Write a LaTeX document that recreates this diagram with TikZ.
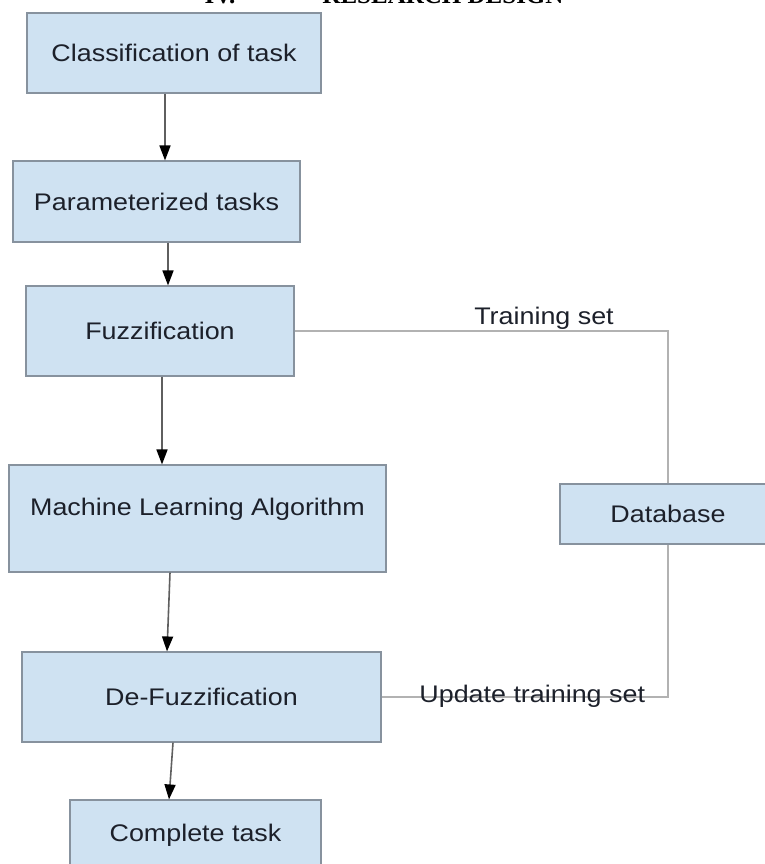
\documentclass[tikz,border=0pt]{standalone}
\usepackage{fontspec}
\setmainfont{Liberation Sans}[FakeStretch=1.12]
\newfontfamily\titlefont{Liberation Serif}
\usetikzlibrary{arrows.meta}
\definecolor{boxblue}{RGB}{207,226,242}
\definecolor{boxline}{RGB}{135,146,158}
\definecolor{textdark}{RGB}{28,32,42}
\definecolor{flowgray}{RGB}{95,95,95}
\definecolor{dbgray}{RGB}{178,178,178}

\begin{document}
\begin{tikzpicture}[x=1pt,y=-1pt,font=\fontsize{24}{28}\selectfont,
  task/.style 2 args={draw=boxline, line width=1.1pt, fill=boxblue, text=textdark,
    minimum width=#1, minimum height=#2, inner sep=0pt, text height=17pt, text depth=0pt},
  flow/.style={draw=flowgray, line width=1.6pt, -{Triangle[length=15pt,width=11pt,color=black]}},
  dbline/.style={draw=dbgray, line width=1.2pt},
  lbl/.style={text=textdark, inner sep=1pt},
]
\clip (0,0) rectangle (765,864);
\useasboundingbox (0,0) rectangle (765,864);

\node[anchor=base, font=\titlefont\bfseries\fontsize{25}{28}\selectfont] (num) at (220,4) {IV.};
\node[anchor=base, font=\titlefont\bfseries\fontsize{25}{28}\selectfont] (title) at (443,4) {RESEARCH DESIGN};

\node[task={294pt}{80pt}] (cls) at (174,53) {Classification of task};
\node[task={287pt}{81pt}] (par) at (156.5,201.5) {Parameterized tasks};
\node[task={268pt}{90pt}] (fuz) at (160,331) {Fuzzification};
\node[task={377pt}{107pt}, text height=18pt, text depth=24pt] (mla) at (197.5,518.5) {Machine Learning Algorithm};
\node[task={359pt}{90pt}] (dfz) at (201.5,697) {De-Fuzzification};
\node[task={251pt}{66pt}] (cpl) at (195.5,833) {Complete task};
\node[task={216pt}{60pt}] (db) at (668,514) {Database};

\draw[flow] ([xshift=-9pt]cls.south) -- ([xshift=8.5pt]par.north);
\draw[flow] ([xshift=11.5pt]par.south) -- ([xshift=8pt]fuz.north);
\draw[flow] ([xshift=2pt]fuz.south) -- ([xshift=-35.5pt]mla.north);
\draw[flow] ([xshift=-27.5pt]mla.south) -- ([xshift=-34.5pt]dfz.north);
\draw[flow] ([xshift=-28.5pt]dfz.south) -- ([xshift=-26.5pt]cpl.north);

\draw[dbline] (fuz.east) -| node[lbl, pos=0.334, above] {Training set} (db.north);
\draw[dbline] (dfz.east) -| node[lbl, pos=0.263, yshift=1pt] {Update training set} (db.south);

\end{tikzpicture}
\end{document}
